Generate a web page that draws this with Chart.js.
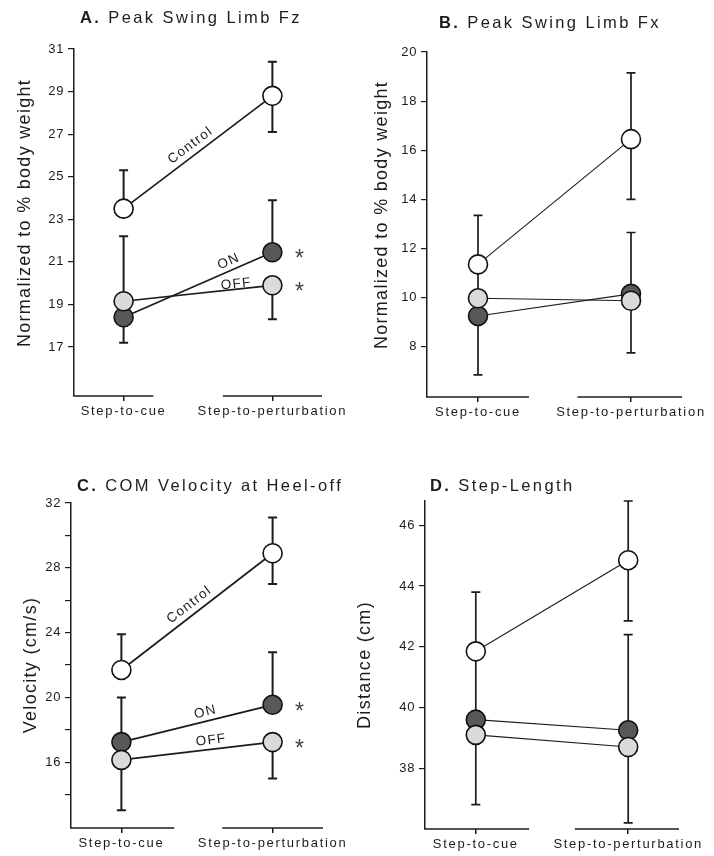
<!DOCTYPE html>
<html>
<head>
<meta charset="utf-8">
<script src="https://cdn.jsdelivr.net/npm/chart.js@4.4.1/dist/chart.umd.min.js"></script>
<style>
  html, body { margin: 0; padding: 0; background: #fff; }
  #page { position: relative; width: 714px; height: 856px; overflow: hidden; }
  .panel { position: absolute; width: 357px; height: 428px; }
  .panel canvas { display: block; }
</style>
</head>
<body>
<div id="page">
  <div class="panel" style="left:0;top:0"><canvas id="chartA" width="357" height="428"></canvas></div>
  <div class="panel" style="left:357px;top:0"><canvas id="chartB" width="357" height="428"></canvas></div>
  <div class="panel" style="left:0;top:428px"><canvas id="chartC" width="357" height="428"></canvas></div>
  <div class="panel" style="left:357px;top:428px"><canvas id="chartD" width="357" height="428"></canvas></div>
</div>
<script>
const xLabels = ['Step-to-cue', 'Step-to-perturbation']
const seriesNames = ['Control', 'ON', 'OFF']

// A. Peak swing limb Fz
const fzTicks = [17, 19, 21, 23, 25, 27, 29, 31]
const fzControl = [23.5, 28.8]
const fzControlHi = [25.3, 30.4]
const fzControlLo = [null, 27.1]
const fzOn = [18.4, 21.45]
const fzOnHi = [null, 23.9]
const fzOnLo = [17.2, null]
const fzOff = [19.15, 19.9]
const fzOffHi = [22.2, null]
const fzOffLo = [null, 18.3]

// B. Peak swing limb Fx
const fxTicks = [8, 10, 12, 14, 16, 18, 20]
const fxControl = [11.35, 16.45]
const fxControlHi = [13.35, 19.15]
const fxControlLo = [10.0, 14.0]
const fxOn = [9.25, 10.15]
const fxOnHi = [null, 12.65]
const fxOnLo = [6.85, null]
const fxOff = [9.97, 9.87]
const fxOffHi = [null, null]
const fxOffLo = [null, 7.75]

// C. COM velocity at heel-off
const velTicks = [14, 16, 18, 20, 22, 24, 26, 28, 30, 32]
const velLabeled = [16, 20, 24, 28, 32]
const velControl = [21.7, 28.9]
const velControlHi = [23.9, 31.1]
const velControlLo = [null, 27.0]
const velOn = [17.25, 19.55]
const velOnHi = [20.0, 22.8]
const velOnLo = [null, null]
const velOff = [16.15, 17.25]
const velOffHi = [null, null]
const velOffLo = [13.05, 15.0]

// D. Step length
const lenTicks = [38, 40, 42, 44, 46]
const lenControl = [41.85, 44.85]
const lenControlHi = [43.8, 46.8]
const lenControlLo = [39.6, 42.85]
const lenOn = [39.6, 39.25]
const lenOnHi = [null, 42.4]
const lenOnLo = [null, null]
const lenOff = [39.1, 38.7]
const lenOffHi = [null, null]
const lenOffLo = [36.8, 36.2]

const FONT = "'Liberation Sans', Arial, Helvetica, sans-serif"
const INK = '#1c1c1c'
const fills = { Control: '#ffffff', ON: '#585858', OFF: '#dadada' }

const panels = [
  {
    id: 'chartA', letter: 'A.', title: 'Peak Swing Limb Fz', yTitle: 'Normalized to % body weight',
    yMin: 14.7, yMax: 31, ticks: fzTicks, labeled: fzTicks,
    series: [
      { name: seriesNames[0], values: fzControl, hi: fzControlHi, lo: fzControlLo },
      { name: seriesNames[1], values: fzOn, hi: fzOnHi, lo: fzOnLo },
      { name: seriesNames[2], values: fzOff, hi: fzOffHi, lo: fzOffLo }
    ],
    area: { left: 74, top: 49, right: 322, bottom: 396 },
    titlePos: [80, 23], yTitlePos: [25, 213], axisBreak: [0.2, 0.667],
    lineWidth: 1.7, errWidth: 2,
    names: { t: [0.49, 0.73, 0.76], off: [10, 9, 5] }, stars: [false, true, true]
  },
  {
    id: 'chartB', letter: 'B.', title: 'Peak Swing Limb Fx', yTitle: 'Normalized to % body weight',
    yMin: 5.95, yMax: 20, ticks: fxTicks, labeled: fxTicks,
    series: [
      { name: seriesNames[0], values: fxControl, hi: fxControlHi, lo: fxControlLo },
      { name: seriesNames[1], values: fxOn, hi: fxOnHi, lo: fxOnLo },
      { name: seriesNames[2], values: fxOff, hi: fxOffHi, lo: fxOffLo }
    ],
    area: { left: 70, top: 52, right: 325, bottom: 397 },
    titlePos: [82, 28], yTitlePos: [25, 215], axisBreak: [0.333, 0.65],
    lineWidth: 1.1, errWidth: 1.7,
    names: null, stars: [false, false, false]
  },
  {
    id: 'chartC', letter: 'C.', title: 'COM Velocity at Heel-off', yTitle: 'Velocity (cm/s)',
    yMin: 11.95, yMax: 32, ticks: velTicks, labeled: velLabeled,
    series: [
      { name: seriesNames[0], values: velControl, hi: velControlHi, lo: velControlLo },
      { name: seriesNames[1], values: velOn, hi: velOnHi, lo: velOnLo },
      { name: seriesNames[2], values: velOff, hi: velOffHi, lo: velOffLo }
    ],
    area: { left: 71, top: 75, right: 323, bottom: 400 },
    titlePos: [77, 63], yTitlePos: [31, 237], axisBreak: [0.35, 0.667],
    lineWidth: 1.7, errWidth: 2,
    names: { t: [0.49, 0.57, 0.6], off: [10, 9, 9] }, stars: [false, true, true]
  },
  {
    id: 'chartD', letter: 'D.', title: 'Step-Length', yTitle: 'Distance (cm)',
    yMin: 36, yMax: 46.8, ticks: lenTicks, labeled: lenTicks,
    series: [
      { name: seriesNames[0], values: lenControl, hi: lenControlHi, lo: lenControlLo },
      { name: seriesNames[1], values: lenOn, hi: lenOnHi, lo: lenOnLo },
      { name: seriesNames[2], values: lenOff, hi: lenOffHi, lo: lenOffLo }
    ],
    area: { left: 68, top: 73, right: 322, bottom: 401 },
    titlePos: [73, 63], yTitlePos: [8, 237], axisBreak: [0.35, 0.65],
    lineWidth: 1.1, errWidth: 1.7,
    names: null, stars: [false, false, false]
  }
]

// error bars, axis break, titles, series names and asterisks
const decor = {
  id: 'decor',
  beforeDraw(chart) {
    chart.ctx.letterSpacing = '0.6px'
  },
  beforeDatasetsDraw(chart, args, opts) {
    const { ctx, scales: { x, y } } = chart
    ctx.save()
    ctx.strokeStyle = INK
    ctx.lineWidth = opts.errWidth
    opts.series.forEach(s => {
      s.values.forEach((v, i) => {
        const px = x.getPixelForValue(i)
        const py = y.getPixelForValue(v)
        ;[s.hi[i], s.lo[i]].forEach(end => {
          if (end == null) return
          const pe = y.getPixelForValue(end)
          ctx.beginPath()
          ctx.moveTo(px, py)
          ctx.lineTo(px, pe)
          ctx.moveTo(px - 4.5, pe)
          ctx.lineTo(px + 4.5, pe)
          ctx.stroke()
        })
      })
    })
    ctx.restore()
  },
  afterDatasetsDraw(chart) {
    // x tick labels are on a later layer; give them wider tracking
    chart.ctx.letterSpacing = '1.7px'
  },
  afterDraw(chart, args, opts) {
    const { ctx, chartArea, scales: { x, y } } = chart
    ctx.save()

    // broken x axis
    ctx.strokeStyle = INK
    ctx.lineWidth = 1.5
    ctx.beginPath()
    ctx.moveTo(chartArea.left - 0.75, chartArea.bottom)
    ctx.lineTo(x.getPixelForValue(opts.axisBreak[0]), chartArea.bottom)
    ctx.moveTo(x.getPixelForValue(opts.axisBreak[1]), chartArea.bottom)
    ctx.lineTo(chartArea.right, chartArea.bottom)
    ctx.stroke()

    ctx.fillStyle = INK
    ctx.textBaseline = 'alphabetic'

    // panel title
    ctx.letterSpacing = '2.4px'
    ctx.textAlign = 'left'
    ctx.font = `bold 16.5px ${FONT}`
    ctx.fillText(opts.letter, opts.titlePos[0], opts.titlePos[1])
    const w = ctx.measureText(opts.letter).width
    ctx.font = `16.5px ${FONT}`
    ctx.fillText(' ' + opts.title, opts.titlePos[0] + w, opts.titlePos[1])

    // y axis title
    ctx.save()
    ctx.letterSpacing = '1.3px'
    ctx.translate(opts.yTitlePos[0], opts.yTitlePos[1])
    ctx.rotate(-Math.PI / 2)
    ctx.textAlign = 'center'
    ctx.textBaseline = 'middle'
    ctx.font = `18px ${FONT}`
    ctx.fillText(opts.yTitle, 0, 0)
    ctx.restore()

    // series names along their lines
    if (opts.names) {
      ctx.letterSpacing = '1.3px'
      ctx.font = `13.5px ${FONT}`
      ctx.textAlign = 'center'
      ctx.textBaseline = 'middle'
      opts.series.forEach((s, k) => {
        const x0 = x.getPixelForValue(0), y0 = y.getPixelForValue(s.values[0])
        const x1 = x.getPixelForValue(1), y1 = y.getPixelForValue(s.values[1])
        const a = Math.atan2(y1 - y0, x1 - x0)
        const t = opts.names.t[k], off = opts.names.off[k]
        const cx = x0 + t * (x1 - x0) + off * Math.sin(a)
        const cy = y0 + t * (y1 - y0) - off * Math.cos(a)
        ctx.save()
        ctx.translate(cx, cy)
        ctx.rotate(a)
        ctx.fillText(s.name, 0, 0)
        ctx.restore()
      })
    }

    // significance asterisks
    ctx.letterSpacing = '0px'
    ctx.font = `23px ${FONT}`
    ctx.textAlign = 'center'
    ctx.textBaseline = 'alphabetic'
    ctx.fillStyle = '#444'
    opts.series.forEach((s, k) => {
      if (!opts.stars[k]) return
      ctx.fillText('*', x.getPixelForValue(1) + 27, y.getPixelForValue(s.values[1]) + 14)
    })

    ctx.restore()
    ctx.letterSpacing = '0px'
  }
}

panels.forEach(p => {
  const W = 357, H = 428
  const order = { Control: 2, ON: 1, OFF: 0 }
  new Chart(document.getElementById(p.id), {
    type: 'line',
    data: {
      datasets: p.series.map(s => ({
        label: s.name,
        data: s.values.map((v, i) => ({ x: i, y: v })),
        order: order[s.name],
        borderColor: INK,
        borderWidth: p.lineWidth,
        tension: 0,
        pointRadius: 9.5,
        pointHoverRadius: 9.5,
        pointBorderWidth: 1.6,
        pointBorderColor: '#111',
        pointBackgroundColor: fills[s.name]
      }))
    },
    options: {
      responsive: false,
      animation: false,
      events: [],
      layout: { padding: { left: 0, top: p.area.top, right: W - p.area.right, bottom: 0 } },
      plugins: {
        legend: { display: false },
        tooltip: { enabled: false },
        decor: {
          series: p.series, letter: p.letter, title: p.title, yTitle: p.yTitle,
          titlePos: p.titlePos, yTitlePos: p.yTitlePos, axisBreak: p.axisBreak,
          errWidth: p.errWidth, names: p.names, stars: p.stars
        }
      },
      scales: {
        x: {
          type: 'linear',
          min: -1 / 3,
          max: 4 / 3,
          afterBuildTicks: sc => { sc.ticks = xLabels.map((_, i) => ({ value: i })) },
          afterFit: sc => { sc.height = H - p.area.bottom },
          ticks: {
            z: 1,
            autoSkip: false,
            maxRotation: 0,
            minRotation: 0,
            padding: 3,
            color: INK,
            font: { family: FONT, size: 13 },
            callback: (v, i) => xLabels[i]
          },
          grid: { drawOnChartArea: false, drawTicks: true, tickLength: 5, color: INK, lineWidth: 1.5 },
          border: { display: false }
        },
        y: {
          type: 'linear',
          min: p.yMin,
          max: p.yMax,
          afterBuildTicks: sc => { sc.ticks = p.ticks.map(v => ({ value: v })) },
          afterFit: sc => { sc.width = p.area.left },
          ticks: {
            padding: 4,
            color: INK,
            font: { family: FONT, size: 13 },
            callback: v => (p.labeled.includes(v) ? String(v) : '')
          },
          grid: { drawOnChartArea: false, drawTicks: true, tickLength: 6, color: INK, lineWidth: 1.2 },
          border: { display: true, color: INK, width: 1.5 }
        }
      }
    },
    plugins: [decor]
  })
})
</script>
</body>
</html>
